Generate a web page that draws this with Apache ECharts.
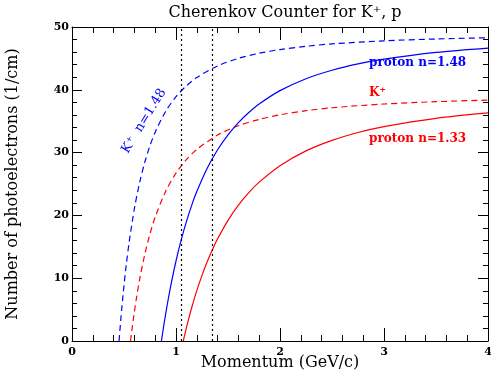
<!DOCTYPE html>
<html><head><meta charset="utf-8">
<script src="https://cdn.jsdelivr.net/npm/echarts@6/dist/echarts.min.js"></script>
<style>html,body{margin:0;padding:0;background:#fff}#c{width:491px;height:381px}</style>
</head><body><div id="c"></div>
<script>
// Momentum (GeV/c) and photoelectron yield (1/cm)
var kaonN148_p = [0.4525,0.46,0.47,0.48,0.49,0.5,0.52,0.55,0.6,0.65,0.7,0.75,0.8,0.9,1.0,1.1,1.2,1.4,1.6,1.8,2.0,2.25,2.5,3.0,3.5,4.0];
var kaonN148_y = [0,1.58,3.57,5.44,7.20,8.85,11.87,15.80,21.09,25.21,28.47,31.11,33.26,36.55,38.90,40.63,41.96,43.80,45.00,45.82,46.41,46.93,47.31,47.80,48.09,48.29];
var kaonN133_p = [0.563,0.57,0.58,0.59,0.6,0.62,0.65,0.7,0.75,0.8,0.9,1.0,1.1,1.2,1.4,1.6,1.8,2.0,2.25,2.5,3.0,3.5,4.0];
var kaonN133_y = [0,0.95,2.26,3.50,4.67,6.86,9.77,13.81,17.07,19.74,23.81,26.72,28.87,30.51,32.79,34.28,35.29,36.02,36.67,37.14,37.74,38.11,38.35];
var protonN148_p = [0.86,0.87,0.88,0.89,0.9,0.92,0.95,1.0,1.05,1.1,1.15,1.2,1.3,1.4,1.5,1.6,1.7,1.8,2.0,2.25,2.5,2.75,3.0,3.5,4.0];
var protonN148_y = [0,1.12,2.20,3.24,4.25,6.17,8.83,12.74,16.10,19.02,21.56,23.79,27.51,30.45,32.83,34.78,36.39,37.75,39.87,41.77,43.12,44.13,44.89,45.96,46.65];
var protonN133_p = [1.07,1.08,1.09,1.1,1.12,1.15,1.2,1.25,1.3,1.35,1.4,1.5,1.6,1.7,1.8,2.0,2.25,2.5,2.75,3.0,3.5,4.0];
var protonN133_y = [0,0.72,1.42,2.10,3.41,5.25,8.02,10.45,12.62,14.54,16.27,19.21,21.62,23.62,25.30,27.92,30.27,31.95,33.20,34.14,35.46,36.32];
var markerLines = [1.05, 1.35];

function pairs(p, y){ return p.map(function(v,i){ return [v, y[i]]; }); }

var FONT = 'DejaVu Serif';
function xAx(pos, showLabel){
  return {
    type:'value', position:pos, min:0, max:4, interval:1, gridIndex:0,
    axisLine:{show:true, onZero:false, lineStyle:{color:'#000', width:1}},
    splitLine:{show:false}, minorSplitLine:{show:false},
    axisTick:{show:true, inside:true, length:13, lineStyle:{color:'#000'}},
    minorTick:{show:true, splitNumber:5, length:6, lineStyle:{color:'#000'}},
    axisLabel:{show:showLabel, color:'#000', fontFamily:FONT, fontWeight:'bold', fontSize:11, margin:6}
  };
}
function yAx(pos, showLabel){
  return {
    type:'value', position:pos, min:0, max:50, interval:10, gridIndex:0,
    axisLine:{show:true, onZero:false, lineStyle:{color:'#000', width:1}},
    splitLine:{show:false}, minorSplitLine:{show:false},
    axisTick:{show:true, inside:true, length:10, lineStyle:{color:'#000'}},
    minorTick:{show:true, splitNumber:5, length:5, lineStyle:{color:'#000'}},
    axisLabel:{show:showLabel, color:'#000', fontFamily:FONT, fontWeight:'bold', fontSize:11, margin:3}
  };
}
var BLUE = '#0000ff', RED = '#ff0000';
function line(name, data, color, dashed){
  return {name:name, type:'line', data:data, showSymbol:false, smooth:0.3,
    lineStyle:{color:color, width:1.2, type: dashed ? [6,4] : 'solid'}};
}
var series = [
  line('K n=1.48', pairs(kaonN148_p, kaonN148_y), BLUE, true),
  line('K n=1.33', pairs(kaonN133_p, kaonN133_y), RED, true),
  line('p n=1.48', pairs(protonN148_p, protonN148_y), BLUE, false),
  line('p n=1.33', pairs(protonN133_p, protonN133_y), RED, false),
  {type:'line', data:[], xAxisIndex:0, yAxisIndex:0, markLine:{symbol:['none','none'], label:{show:false},
    lineStyle:{color:'#000', type:[2,3], width:1.2},
    data: markerLines.map(function(v){ return {xAxis:v}; })}}
];

var chart = echarts.init(document.getElementById('c'));
chart.setOption({
  animation:false,
  title:{text:'Cherenkov Counter for K\u207A, p', left:280, textAlign:'center', top:0,
    textStyle:{color:'#000', fontFamily:FONT, fontSize:16, fontWeight:'normal'}},
  grid:{left:72, right:3, top:27, bottom:40, outerBoundsMode:'none'},
  xAxis:[xAx('bottom', true), xAx('top', false)],
  yAxis:[yAx('left', true), yAx('right', false)],
  series:series,
  graphic:[
    {type:'text', x:280, y:363, style:{text:'Momentum (GeV/c)', fill:'#000', font:'16px "DejaVu Serif"', align:'center', verticalAlign:'middle'}},
    {type:'text', x:13, y:184, rotation:Math.PI/2, style:{text:'Number of photoelectrons (1/cm)', fill:'#000', font:'16px "DejaVu Serif"', align:'center', verticalAlign:'middle'}},
    {type:'text', left:369, top:57, style:{text:'proton n=1.48', fill:BLUE, font:'bold 12px "DejaVu Serif"'}},
    {type:'text', left:369, top:87, style:{text:'K\u207A', fill:RED, font:'bold 12px "DejaVu Serif"'}},
    {type:'text', left:369, top:133, style:{text:'proton n=1.33', fill:RED, font:'bold 12px "DejaVu Serif"'}},
    {type:'text', x:144, y:121, rotation:1.02, style:{text:'K\u207A  n=1.48', fill:BLUE, font:'13px "DejaVu Serif"',
      align:'center', verticalAlign:'middle'}}
  ]
});
</script></body></html>
